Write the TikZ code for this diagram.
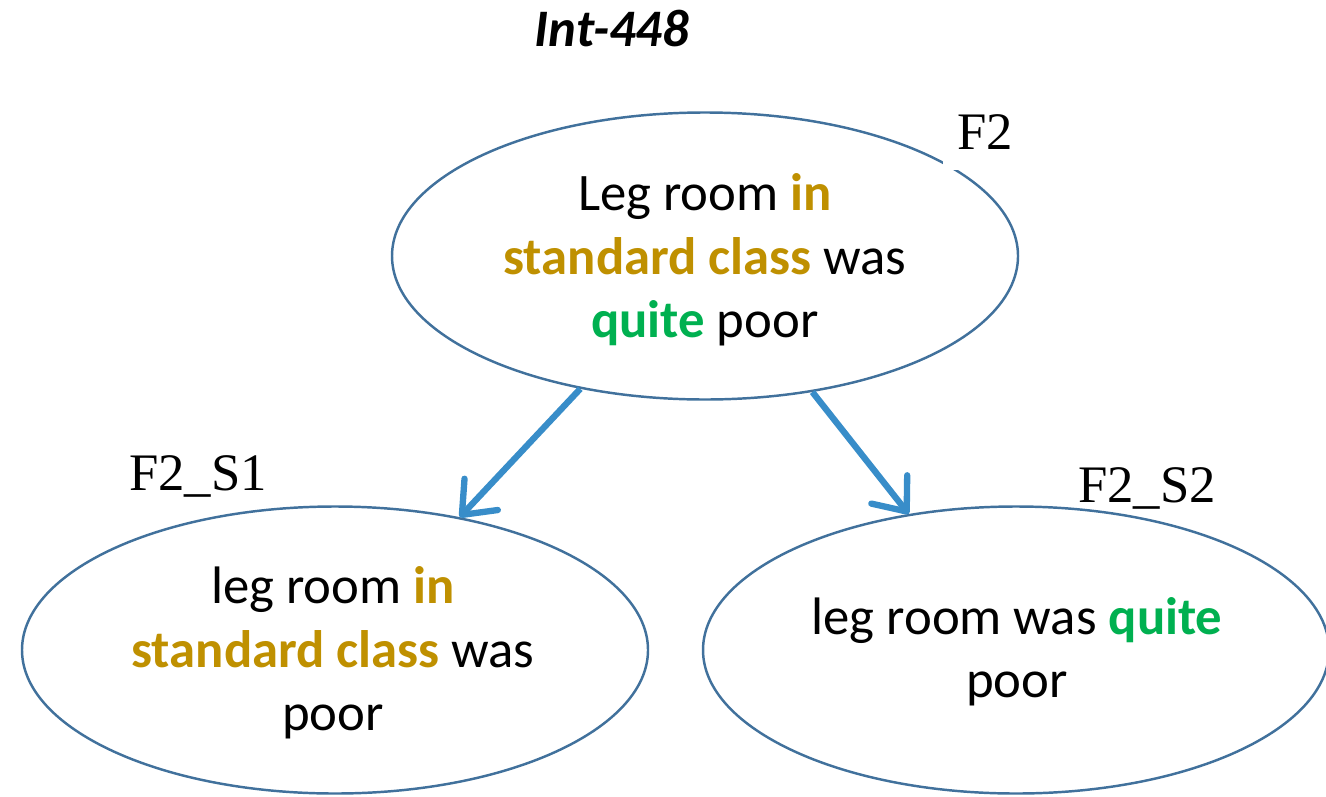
\documentclass[tikz,border=0pt]{standalone}
\usepackage{fontspec}
\setmainfont{Carlito}
\newfontfamily\tnr{Liberation Serif}
\usetikzlibrary{shapes.geometric,arrows.meta}

\definecolor{gold}{RGB}{191,144,0}
\definecolor{leaf}{RGB}{0,176,80}
\definecolor{rim}{RGB}{65,113,156}
\definecolor{arr}{RGB}{56,141,201}
\newcommand\phr[1]{\textcolor{gold}{\textbf{#1}}}
\newcommand\adv[1]{\textcolor{leaf}{\textbf{#1}}}

\begin{document}
\begin{tikzpicture}[
  bubble/.style={ellipse,draw=rim,line width=0.7pt,minimum width=6.26cm,minimum height=2.87cm,inner sep=0pt},
  txt/.style={align=center,font=\fontsize{15}{18}\selectfont},
  tag/.style={anchor=base,inner xsep=0.14cm,inner ysep=0.2cm,font=\tnr\fontsize{15}{18}\selectfont},
  link/.style={draw=arr,line width=1.8pt,-{Straight Barb[length=8pt,width=13pt,round]}}]
\useasboundingbox (0,0) rectangle (13.26,7.96);

\node[anchor=base,font=\fontsize{15}{18}\selectfont\bfseries\itshape] (T) at (6.12,7.49) {Int-448};

\node[bubble] (F)  at (7.05,5.40) {};
\node[bubble] (S1) at (3.35,1.46) {};
\node[bubble] (S2) at (10.16,1.46) {};

\node[tag,fill=white] (Fl) at (9.85,6.46) {F2};
\node[tag] (S1l) at (1.98,3.06) {F2\_S1};
\node[tag] (S2l) at (11.47,2.94) {F2\_S2};

\node[txt] (Ft)  at (7.05,5.36) {Leg room \phr{in}\\\phr{standard class} was\\\adv{quite} poor};
\node[txt] (S1t) at (3.33,1.43) {leg room \phr{in}\\\phr{standard class} was\\poor};
\node[txt] (S2t) at (10.17,1.44) {leg room was \adv{quite}\\poor};

\draw[link] (F) -- (S1);
\draw[link] (F) -- (S2);
\end{tikzpicture}
\end{document}
